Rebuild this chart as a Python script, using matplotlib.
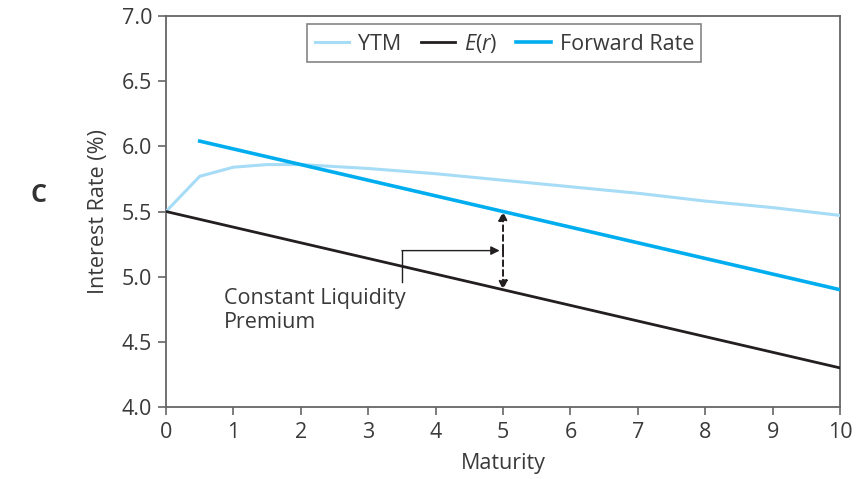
import matplotlib
matplotlib.use("Agg")
import matplotlib.pyplot as plt

maturity_ytm = [0, 0.5, 1, 1.5, 2, 3, 4, 5, 6, 7, 8, 9, 10]
ytm = [5.50, 5.77, 5.84, 5.86, 5.86, 5.83, 5.79, 5.74, 5.69, 5.64, 5.58, 5.53, 5.47]
maturity_er = [0, 10]
expected_r = [5.50, 4.30]
maturity_fwd = [0.5, 10]
forward = [6.04, 4.90]
x_ticks = list(range(0, 11))
y_ticks = [4.0, 4.5, 5.0, 5.5, 6.0, 6.5, 7.0]

plt.rcParams['font.family'] = ['Open Sans', 'DejaVu Sans']
plt.rcParams['mathtext.fontset'] = 'custom'
plt.rcParams['mathtext.it'] = 'Open Sans:italic'
plt.rcParams['mathtext.rm'] = 'Open Sans'
FS = 15.5
TFS = 15.5
TC = '#3a3a3a'
fig = plt.figure(figsize=(8.66, 4.79), dpi=100)
ax = fig.add_axes([0.1917, 0.1503, 0.7783, 0.8163])

ax.plot(maturity_ytm, ytm, color='#a6dcf6', lw=2.2, label='YTM', zorder=3)
ax.plot(maturity_er, expected_r, color='#231f20', lw=2.0, label=r'$\mathit{E}$($\mathit{r}$)', zorder=3)
ax.plot(maturity_fwd, forward, color='#00aeef', lw=2.6, label='Forward Rate', zorder=4)

ax.set_xlim(0, 10)
ax.set_ylim(4.0, 7.0)
ax.set_xticks(x_ticks)
ax.set_yticks(y_ticks)
ax.set_yticklabels([f"{v:.1f}" for v in y_ticks])
ax.tick_params(axis='both', direction='out', length=6, width=1.2, color='#666666',
               labelsize=TFS, labelcolor=TC)
ax.tick_params(axis='y', pad=4)
ax.tick_params(axis='x', pad=5)
for s in ax.spines.values():
    s.set_color('#666666')
    s.set_linewidth(1.3)

ax.set_xlabel('Maturity', fontsize=FS, color=TC, labelpad=7)
ax.set_ylabel('Interest Rate (%)', fontsize=FS, color=TC, labelpad=9)

leg = ax.legend(loc='upper center', bbox_to_anchor=(0.502, 0.99), ncol=3, fontsize=FS,
                frameon=True, fancybox=False, handlelength=1.6, handletextpad=0.4,
                columnspacing=0.9, borderpad=0.35, borderaxespad=0.2)
leg.get_frame().set_edgecolor('#666666')
leg.get_frame().set_linewidth(1.2)
for t in leg.get_texts():
    t.set_color(TC)

# Liquidity premium double arrow
x5 = 5
y_fwd5 = forward[0] + (forward[1] - forward[0]) * (x5 - maturity_fwd[0]) / (maturity_fwd[1] - maturity_fwd[0])
y_er5 = expected_r[0] + (expected_r[1] - expected_r[0]) * (x5 - maturity_er[0]) / (maturity_er[1] - maturity_er[0])
ymid = (y_fwd5 + y_er5) / 2
ax.annotate('', xy=(x5, y_fwd5), xytext=(x5, ymid),
            arrowprops=dict(arrowstyle='-|>', color='#231f20', lw=1.4, ls=(0, (3, 2)),
                            mutation_scale=13, shrinkA=0, shrinkB=0))
ax.annotate('', xy=(x5, y_er5), xytext=(x5, ymid),
            arrowprops=dict(arrowstyle='-|>', color='#231f20', lw=1.4, ls=(0, (3, 2)),
                            mutation_scale=13, shrinkA=0, shrinkB=0))
# connector
ax.plot([3.5, 3.5], [4.96, ymid], color='#231f20', lw=1.0)
ax.annotate('', xy=(4.95, ymid), xytext=(3.5, ymid),
            arrowprops=dict(arrowstyle='-|>', color='#231f20', lw=1.0,
                            mutation_scale=13, shrinkA=0, shrinkB=0))
ax.text(0.86, 4.91, 'Constant Liquidity\nPremium', fontsize=FS, color=TC,
        va='top', ha='left', linespacing=1.15)

fig.text(38 / 866, 1 - 195 / 479, 'C', fontsize=18, fontweight='bold', color='#333333',
         ha='center', va='center')

fig.savefig('out.png', dpi=100, facecolor='white')
